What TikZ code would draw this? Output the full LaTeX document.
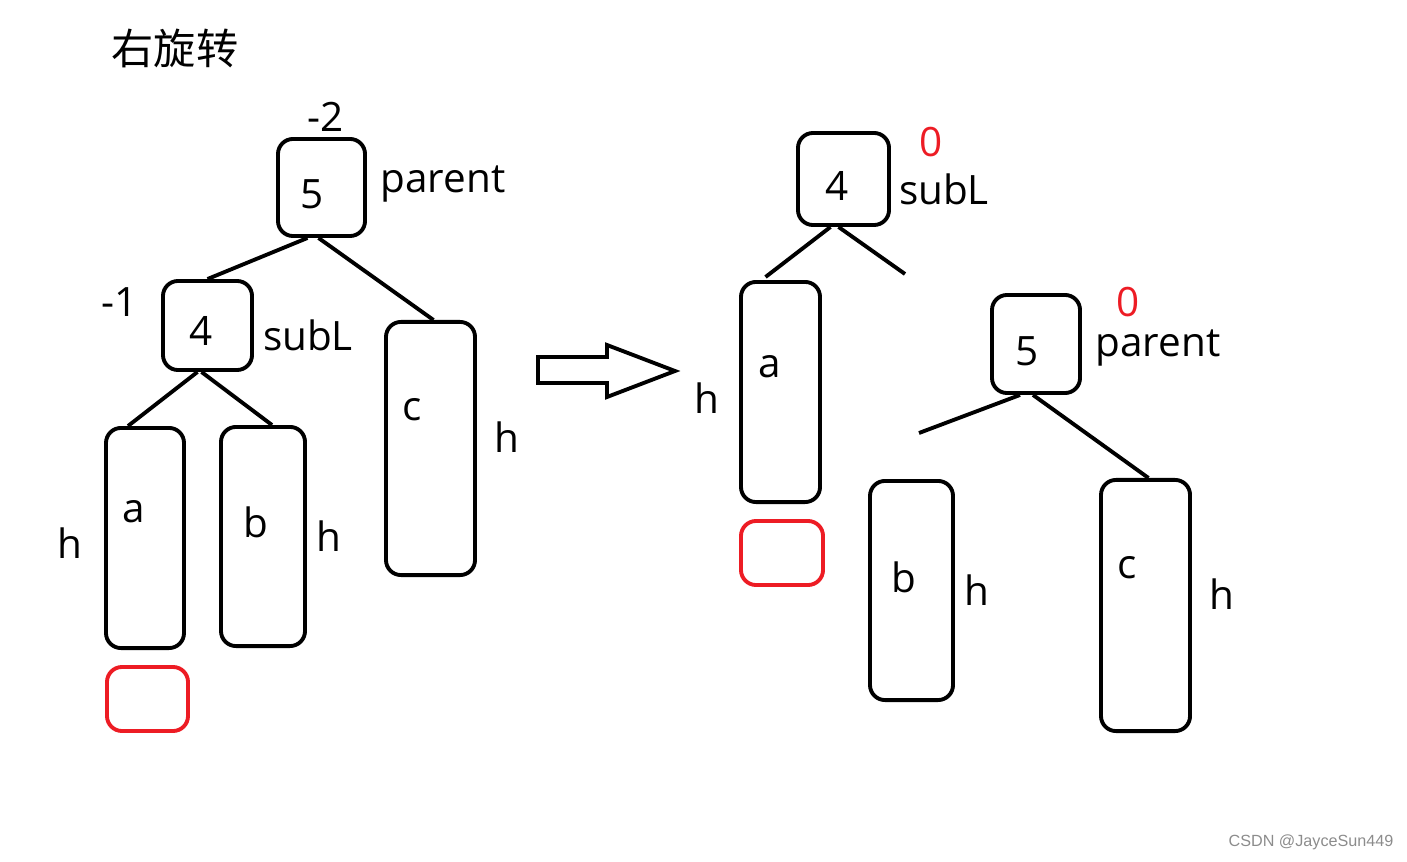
\documentclass[tikz,border=0pt]{standalone}
\usepackage{fontspec}
\setmainfont{Open Sans}
\newfontfamily\cjk{Noto Sans CJK SC}
\newfontfamily\wmfont{Liberation Sans}
\usepackage{tikz}
\usetikzlibrary{calc}
\definecolor{balred}{RGB}{237,28,36}

\begin{document}
\begin{tikzpicture}[
  x=0.01cm, y=-0.01cm,
  font=\fontsize{11.5}{13}\selectfont,
  box/.style={draw,line width=1.1pt,rounded corners=0.15cm,inner sep=0pt},
  newbox/.style={box,draw=balred},
  edge/.style={line width=1.1pt},
  bal/.style={text=balred,inner sep=0pt}
]
  \useasboundingbox (0,0) rectangle (1407,861);
  \node[font=\cjk\fontsize{12}{14}\selectfont] (title) at (175,48) {右旋转};

  % before the rotation
  \node[box,minimum width=0.87cm,minimum height=0.97cm] (p5) at (321.5,187.5) {};
  \node (p5l) at (312,194) {5};
  \node (p5b) at (326,117) {-2};
  \node (p5n) at (443,184) {parent};
  \node[box,minimum width=0.89cm,minimum height=0.89cm] (s4) at (207.5,325.5) {};
  \node (s4l) at (201,331) {4};
  \node (s4b) at (120,302) {-1};
  \node (s4n) at (308,335) {subL};
  \node[box,minimum width=0.78cm,minimum height=2.2cm] (ta) at (145,538) {};
  \node[box,minimum width=0.84cm,minimum height=2.19cm] (tb) at (263,536.5) {};
  \node[box,minimum width=0.89cm,minimum height=2.53cm] (tc) at (430.5,448.5) {};
  \node[newbox,minimum width=0.81cm,minimum height=0.64cm] (tn) at (147.5,699) {};
  \node (tal) at (134,512) {a};
  \node (tbl) at (256,522) {b};
  \node (tcl) at (412,410) {c};
  \node (tah) at (70,543) {h};
  \node (tbh) at (329,536) {h};
  \node (tch) at (507,437) {h};
  \draw[edge] ($(p5.south)+(-14,0)$) -- (s4.north);
  \draw[edge] ($(p5.south)+(-3,0)$) -- ($(tc.north)+(3,0)$);
  \draw[edge] ($(s4.south)+(-10,0)$) -- ($(ta.north)+(-17,0)$);
  \draw[edge] ($(s4.south)+(-6,0)$) -- ($(tb.north)+(9,0)$);

  \draw[edge] (538,357) -- (607,357) -- (607,345) -- (675,371) -- (607,397) -- (607,383) -- (538,383) -- cycle;

  % after the rotation
  \node[box,minimum width=0.91cm,minimum height=0.92cm] (r4) at (843.5,179) {};
  \node (r4l) at (837,186) {4};
  \node[bal] (r4b) at (931,142) {0};
  \node (r4n) at (944,189) {subL};
  \node[box,minimum width=0.88cm,minimum height=0.98cm] (r5) at (1036,344) {};
  \node (r5l) at (1027,351) {5};
  \node[bal] (r5b) at (1128,302) {0};
  \node[inner sep=0pt] (r5n) at (1158,348) {parent};
  \node[box,minimum width=0.79cm,minimum height=2.2cm] (ra) at (780.5,392) {};
  \node[newbox,minimum width=0.82cm,minimum height=0.64cm] (rn) at (782,553) {};
  \node[box,minimum width=0.83cm,minimum height=2.19cm] (rb) at (911.5,590.5) {};
  \node[box,minimum width=0.89cm,minimum height=2.51cm] (rc) at (1145.5,605.5) {};
  \node (ral) at (770,367) {a};
  \node (rbl) at (904,577) {b};
  \node (rcl) at (1127,568) {c};
  \node (rah) at (707,398) {h};
  \node (rbh) at (977,590) {h};
  \node (rch) at (1222,594) {h};
  \coordinate (r4e) at (905,274);
  \coordinate (r5e) at (919,433);
  \draw[edge] ($(r4.south)+(-13,0)$) -- ($(ra.north)+(-15,-3)$);
  \draw[edge] ($(r4.south)+(-5,0)$) -- (r4e);
  \draw[edge] ($(r5.south)+(-16,0)$) -- (r5e);
  \draw[edge] ($(r5.south)+(-3,0)$) -- ($(rc.north)+(3,0)$);

  \node[text=black!45,font=\wmfont\fontsize{4.6}{6}\selectfont] (mark) at (1311,842) {CSDN @JayceSun449};
\end{tikzpicture}
\end{document}
